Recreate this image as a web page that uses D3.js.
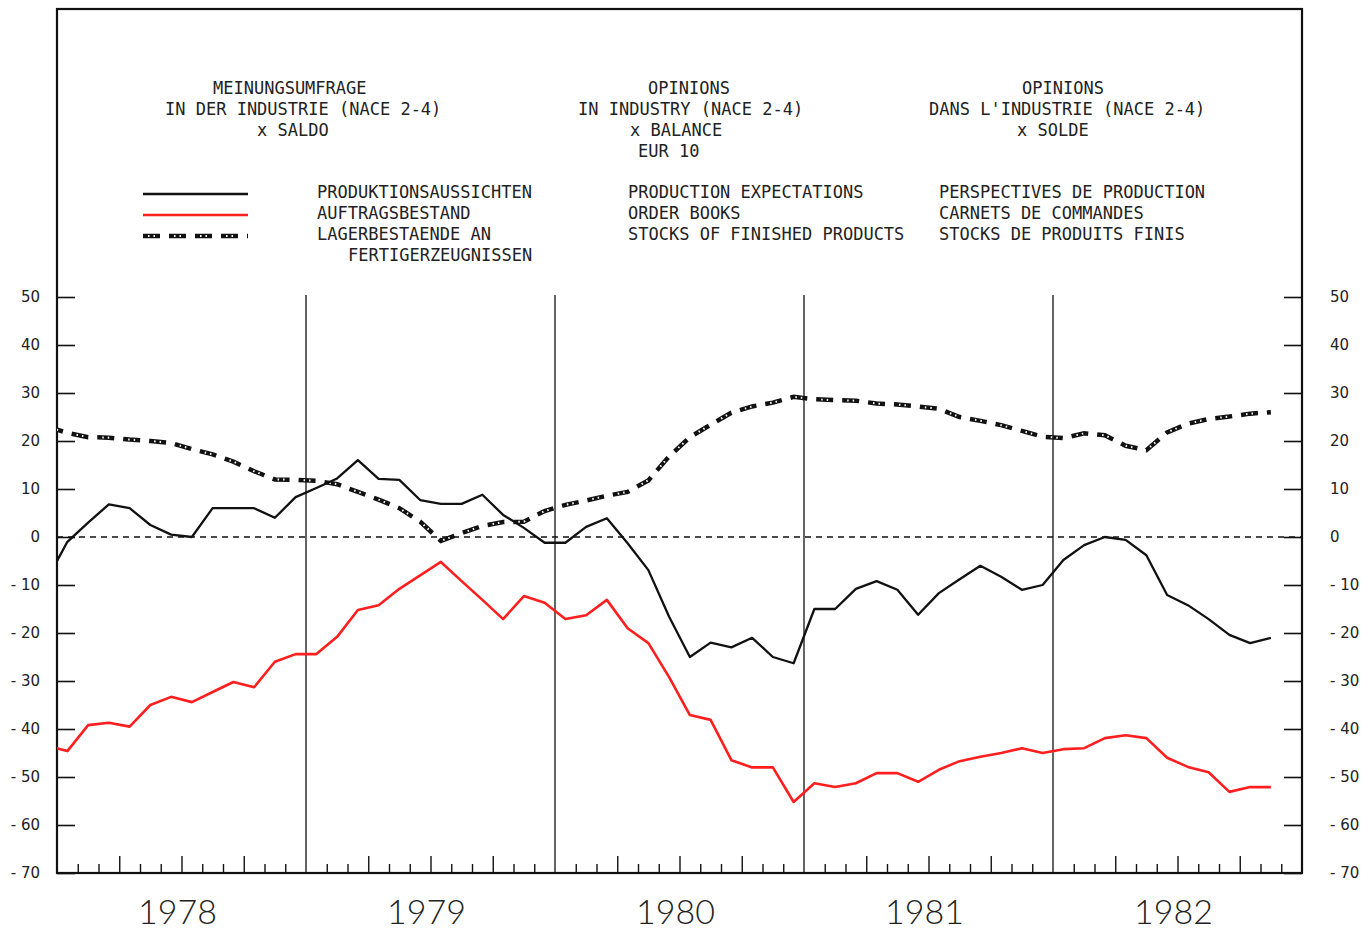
<!DOCTYPE html>
<html>
<head>
<meta charset="utf-8">
<script src="https://cdn.jsdelivr.net/npm/d3@7"></script>
<style>
  body { margin: 0; background: #fff; }
  .plotter { font-family: "DejaVu Sans Mono", monospace; font-size: 17px; fill: #222; }
  .tick text { font-family: "DejaVu Sans", sans-serif; font-size: 15px; fill: #222; }
  .year { font-family: Lato, "Liberation Sans", sans-serif; font-weight: 300; font-size: 34px; fill: #222; }
</style>
</head>
<body>
<div class="chart"></div>
<script>
// monthly values, first point is Dec 1977, last is Nov 1982
var firstMonth = -1;
var years = ["1978", "1979", "1980", "1981", "1982"];
var yTicks = [50, 40, 30, 20, 10, 0, -10, -20, -30, -40, -50, -60, -70];

var production = [-9,
  -1, 3, 6.8, 6, 2.5, 0.5, 0, 6, 6, 6, 4, 8.3,
  10.2, 12.2, 16, 12.1, 11.9, 7.7, 6.9, 6.9, 8.8, 4.6, 1.9, -1.2,
  -1.2, 2.1, 3.9, -1.3, -6.9, -16.6, -25, -22, -23, -21, -25, -26.3,
  -15, -15, -10.8, -9.2, -11, -16.2, -11.7, -8.8, -6, -8.3, -11, -10,
  -4.8, -1.7, 0, -0.6, -3.8, -12.1, -14.2, -17.1, -20.4, -22.1, -21];

var orders = [-43.5,
  -44.6, -39.2, -38.7, -39.5, -35, -33.3, -34.4, -32.3, -30.2, -31.3, -26, -24.4,
  -24.4, -20.8, -15.2, -14.2, -10.8, -8, -5.2, -9.2, -13.1, -17.1, -12.3, -13.7,
  -17.1, -16.3, -13.1, -19, -22.1, -29.2, -37.1, -38.1, -46.5, -48, -48, -55.2,
  -51.3, -52.1, -51.3, -49.2, -49.2, -51, -48.5, -46.7, -45.8, -45, -44, -45,
  -44.2, -44, -41.9, -41.3, -41.9, -46, -47.9, -49, -53.1, -52.1, -52.1];

var stocks = [23,
  21.7, 20.8, 20.7, 20.3, 20, 19.6, 18.3, 17.2, 15.7, 13.7, 12, 11.9,
  11.7, 11, 9.4, 7.8, 6, 3.2, -0.8, 0.8, 2.3, 3.1, 3.2, 5.4,
  6.7, 7.6, 8.6, 9.4, 11.8, 16.8, 20.8, 23.4, 25.9, 27.2, 28, 29.2,
  28.7, 28.5, 28.4, 27.8, 27.6, 27.2, 26.7, 25, 24.2, 23.3, 22.1, 20.9,
  20.6, 21.6, 21.2, 19, 18.1, 21.8, 23.6, 24.6, 25.1, 25.7, 26];

// header and legend text
var headDe = ["MEINUNGSUMFRAGE", "IN DER INDUSTRIE (NACE 2-4)", "x SALDO"];
var headEn = ["OPINIONS", "IN INDUSTRY (NACE 2-4)", "x BALANCE", "EUR 10"];
var headFr = ["OPINIONS", "DANS L'INDUSTRIE (NACE 2-4)", "x SOLDE"];
var legendDe = ["PRODUKTIONSAUSSICHTEN", "AUFTRAGSBESTAND", "LAGERBESTAENDE AN", "FERTIGERZEUGNISSEN"];
var legendEn = ["PRODUCTION EXPECTATIONS", "ORDER BOOKS", "STOCKS OF FINISHED PRODUCTS"];
var legendFr = ["PERSPECTIVES DE PRODUCTION", "CARNETS DE COMMANDES", "STOCKS DE PRODUITS FINIS"];

var width = 1370, height = 937;
var plotLeft = 57, plotRight = 1302, plotTop = 9, plotBottom = 873;

var x = d3.scaleLinear().domain([0, 60]).range([plotLeft, plotRight]);
var y = d3.scaleLinear().domain([-70, 50]).range([plotBottom, 297]);

var svg = d3.select(".chart").append("svg")
    .attr("width", width)
    .attr("height", height);

svg.append("clipPath").attr("id", "plot")
  .append("rect")
    .attr("x", plotLeft).attr("y", plotTop)
    .attr("width", plotRight - plotLeft).attr("height", plotBottom - plotTop);

// frame
svg.append("rect")
    .attr("x", plotLeft).attr("y", plotTop)
    .attr("width", plotRight - plotLeft).attr("height", plotBottom - plotTop)
    .attr("fill", "none").attr("stroke", "#111").attr("stroke-width", 2.2);

// y axes, ticks point inwards
function fmt(d) { return d < 0 ? "- " + (-d) : "" + d; }

var yLeft = svg.append("g")
    .attr("transform", "translate(" + plotLeft + ",0)")
    .call(d3.axisLeft(y).tickValues(yTicks).tickSize(-18).tickPadding(17).tickFormat(fmt));

var yRight = svg.append("g")
    .attr("transform", "translate(" + plotRight + ",0)")
    .call(d3.axisRight(y).tickValues(yTicks).tickSize(-18).tickPadding(28).tickFormat(fmt));

[yLeft, yRight].forEach(function(g) {
  g.select(".domain").remove();
  g.selectAll(".tick line").attr("stroke", "#111").attr("stroke-width", 1.6);
});

// month ticks along the bottom
var months = d3.range(1, 60).filter(function(m) { return m % 3 !== 0; });
var quarters = d3.range(1, 60).filter(function(m) { return m % 3 === 0 && m % 12 !== 0; });

var xMonth = svg.append("g")
    .attr("transform", "translate(0," + plotBottom + ")")
    .call(d3.axisBottom(x).tickValues(months).tickSize(-9).tickFormat(""));
var xQuarter = svg.append("g")
    .attr("transform", "translate(0," + plotBottom + ")")
    .call(d3.axisBottom(x).tickValues(quarters).tickSize(-17).tickFormat(""));

[xMonth, xQuarter].forEach(function(g) {
  g.select(".domain").remove();
  g.selectAll(".tick line").attr("stroke", "#111").attr("stroke-width", 1.4);
});

// year separators
svg.selectAll(".yearline")
    .data(d3.range(1, years.length))
  .enter().append("line")
    .attr("x1", function(d) { return x(d * 12); })
    .attr("x2", function(d) { return x(d * 12); })
    .attr("y1", y(50) - 2)
    .attr("y2", plotBottom)
    .attr("stroke", "#111")
    .attr("stroke-width", 1.3);

// year labels
svg.selectAll(".year")
    .data(years)
  .enter().append("text")
    .attr("class", "year")
    .attr("x", function(d, i) { return x(i * 12 + 6) - 4; })
    .attr("y", 924)
    .attr("text-anchor", "middle")
    .text(function(d) { return d; });

// zero line
svg.append("line")
    .attr("x1", plotLeft).attr("x2", plotRight)
    .attr("y1", y(0)).attr("y2", y(0))
    .attr("stroke", "#111")
    .attr("stroke-width", 1.5)
    .attr("stroke-dasharray", "6,5");

// series
var line = d3.line()
    .x(function(d, i) { return x(firstMonth + i + 0.5); })
    .y(function(d) { return y(d); });

var series = svg.append("g").attr("clip-path", "url(#plot)");

function stockLine(g, d) {
  g.append("path")
      .attr("d", d)
      .attr("fill", "none")
      .attr("stroke", "#111")
      .attr("stroke-width", 4.5)
      .attr("stroke-dasharray", "17,9");
  // break each dash into small crosses like the plotter did
  g.append("path")
      .attr("d", d)
      .attr("fill", "none")
      .attr("stroke", "#fff")
      .attr("stroke-width", 2)
      .attr("stroke-dasharray", "0,5,1.5,4,1.5,14");
}

stockLine(series, line(stocks));

series.append("path")
    .attr("d", line(orders))
    .attr("fill", "none")
    .attr("stroke", "#ff1f1f")
    .attr("stroke-width", 2.6)
    .attr("stroke-linejoin", "round");

series.append("path")
    .attr("d", line(production))
    .attr("fill", "none")
    .attr("stroke", "#111")
    .attr("stroke-width", 2.3)
    .attr("stroke-linejoin", "round");

// header blocks
function block(lines, xs, y0) {
  lines.forEach(function(t, i) {
    svg.append("text")
        .attr("class", "plotter")
        .attr("x", xs[i])
        .attr("y", y0 + i * 21)
        .text(t);
  });
}

block(headDe, [213, 165, 257], 94);
block(headEn, [648, 578, 630, 638], 94);
block(headFr, [1022, 929, 1017], 94);

block(legendDe, [317, 317, 317, 348], 198);
block(legendEn, [628, 628, 628], 198);
block(legendFr, [939, 939, 939], 198);

// legend samples
var legend = svg.append("g");
legend.append("line")
    .attr("x1", 143).attr("x2", 248).attr("y1", 194).attr("y2", 194)
    .attr("stroke", "#111").attr("stroke-width", 2.3);
legend.append("line")
    .attr("x1", 143).attr("x2", 248).attr("y1", 215).attr("y2", 215)
    .attr("stroke", "#ff1f1f").attr("stroke-width", 2.6);
stockLine(legend, "M143,236H248");
</script>
</body>
</html>
